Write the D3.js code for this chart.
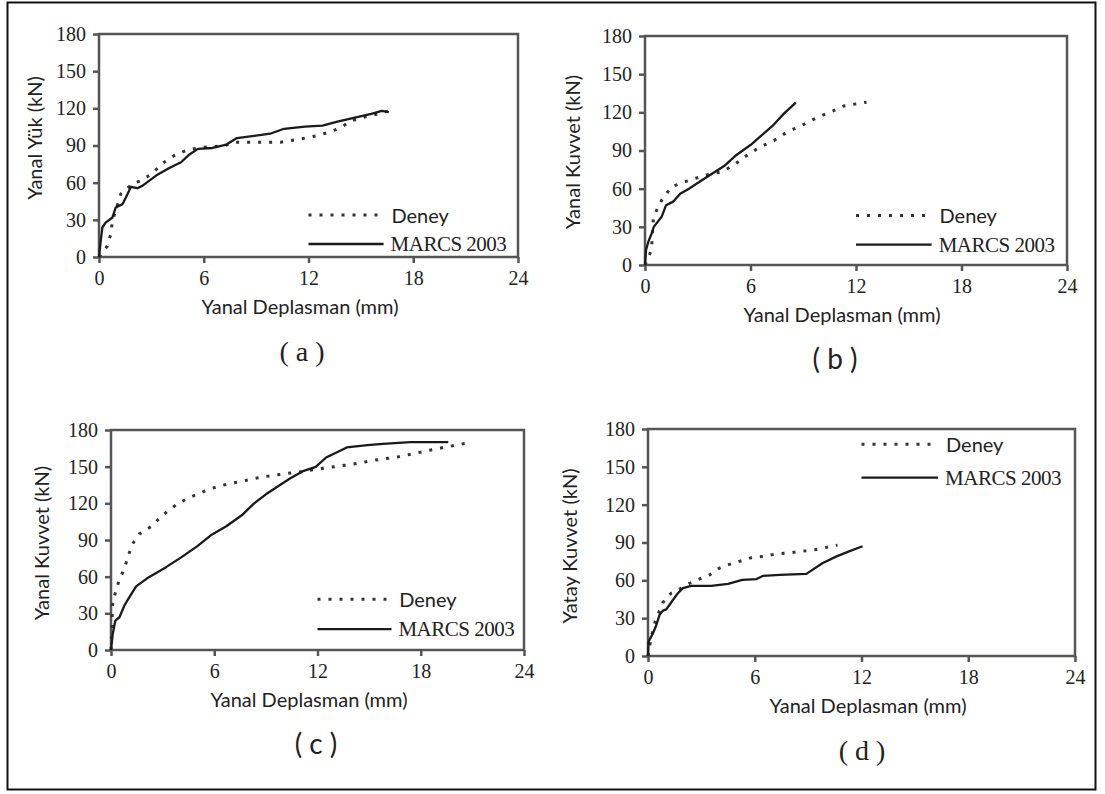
<!DOCTYPE html>
<html>
<head>
<meta charset="utf-8">
<script src="https://cdn.jsdelivr.net/npm/d3@7"></script>
<style>
  body { margin: 0; background: #fff; }
  svg { display: block; }
  .tick text { font-family: "Liberation Serif", serif; }
</style>
</head>
<body>
<div id="chart"></div>
<script>
/* Achsen und Texte */
const xTicks = [0, 6, 12, 18, 24];
const yTicks = [0, 30, 60, 90, 120, 150, 180];
const xTitle = "Yanal Deplasman (mm)";
const yTitles = ["Yanal Yük (kN)", "Yanal Kuvvet (kN)", "Yanal Kuvvet (kN)", "Yatay Kuvvet (kN)"];
const panelLabels = ["( a )", "( b )", "( c )", "( d )"];
const seriesNames = ["Deney", "MARCS 2003"];

const aDeney = [[0,0],[0.48,8.9],[0.67,18.4],[0.77,29],[1.25,51],[1.9,59],[2.4,61.6],[3.0,67],[3.65,75.7],[4.4,82.7],[5.1,86.5],[5.9,88.6],[6.5,89],[7.2,90],[7.8,92.7],[8.75,92.7],[10.4,92.7],[11.6,95.4],[12.5,98],[13.2,100.8],[13.9,104.8],[14.4,109.7],[15.2,113],[16.0,115.6],[16.6,118]];
const aMarcs = [[0,0],[0.1,13],[0.19,23.8],[0.38,27.8],[0.77,31.9],[0.96,40],[1.35,42.7],[1.54,48],[1.83,56.7],[2.2,55.5],[2.5,57.6],[3.27,65.7],[4.0,71.6],[4.7,76.5],[5.2,83],[5.67,87.3],[6.5,88],[7.3,90.8],[7.9,96],[9.0,98],[9.8,99.5],[10.6,103.5],[11.8,105.3],[12.8,106],[13.6,109],[14.4,111.6],[15.6,115.6],[16.2,118],[16.6,117]];

const bDeney = [[0,0],[0.29,9.2],[0.38,14.4],[0.48,38],[0.95,51],[1.52,61.6],[2.29,65.5],[3.05,68.9],[3.7,71.5],[4.4,73.4],[5.05,78.6],[5.7,85.2],[6.57,93],[7.33,97.7],[8.1,104.8],[8.86,109.3],[9.8,116],[10.6,120.5],[11.3,125],[12.6,128]];
const bMarcs = [[0,0],[0.06,11.8],[0.19,18.3],[0.38,24.9],[0.5,30],[0.95,38],[1.2,47],[1.6,49.8],[2.0,56],[2.5,60],[2.95,64],[3.7,70.7],[4.5,77.8],[5.2,86.5],[6.0,94.3],[6.76,103.5],[7.3,110],[7.9,119],[8.5,126.6],[8.57,127.6]];

const cDeney = [[0,0],[0.1,39],[0.29,48.7],[0.49,58],[0.78,66.5],[0.97,76],[1.26,87],[1.65,95],[2.33,101],[2.8,107.5],[3.3,113.8],[3.9,119.8],[4.5,124.4],[5.1,128],[5.8,132],[6.5,134.8],[7.1,136.7],[7.6,138],[8.3,140.3],[8.8,141.6],[9.5,143],[10.2,144.4],[11.0,145.8],[11.8,147.7],[12.7,149.4],[13.6,151.2],[14.3,152.6],[15.4,155.5],[16.7,158],[18.6,163.7],[19.4,165.9],[20.75,169.4],[21,170]];
const cMarcs = [[0,0],[0.1,13],[0.25,24],[0.49,26.8],[0.78,36.4],[0.97,41],[1.46,52],[2.2,59.6],[3.2,67.8],[4.1,76],[5.0,84.8],[5.8,93.8],[6.7,101.2],[7.6,110.2],[8.3,119.8],[9.0,127.4],[9.8,134.8],[10.4,140.3],[11.2,146.6],[11.9,149.9],[12.5,157.5],[13.7,165.7],[14.9,167.6],[15.8,168.6],[17.4,170],[19.6,170]];

const dDeney = [[0,0],[0.19,15.4],[0.43,28.6],[0.84,42.4],[1.3,49.8],[1.78,53],[2.34,57.7],[3.0,61.7],[3.46,64.3],[4.0,69.6],[4.67,73.1],[5.3,75.7],[5.9,78.4],[6.5,79],[7.2,81],[7.85,81.6],[8.5,82.9],[9.2,83.7],[9.8,85.5],[10.65,87.9]];
const dMarcs = [[0,0],[0.03,11.4],[0.28,18],[0.47,24.6],[0.65,32.6],[0.84,36],[1.03,37],[1.3,42.4],[1.68,49.8],[1.96,53.8],[2.43,55.6],[3.55,55.6],[4.5,57.2],[5.3,60.4],[6.1,61],[6.45,63.5],[7.4,64.3],[8.9,65.1],[9.8,73.6],[10.6,79],[11.3,83],[12.06,87]];

/* Legendenhöhe (in kN) je Diagramm: [Deney, MARCS] */
const legendLevels = [[34, 10.5], [39, 16], [41.5, 17], [168, 141.5]];

const width = 1105, height = 794;
const sans = "Lato, 'Open Sans', sans-serif";
const serif = "'Liberation Serif', serif";

/* Lage der vier Diagramme im Bild */
const layout = [
  { left: 99,  right: 518,  top: 34,  bottom: 257, yTitleX: 34,  yTitleY: 138, xTitleX: 300, labelX: 302, labelFont: serif },
  { left: 645, right: 1067, top: 36,  bottom: 265, yTitleX: 572, yTitleY: 152, xTitleX: 842, labelX: 835, labelFont: sans },
  { left: 111, right: 524,  top: 430, bottom: 650, yTitleX: 41,  yTitleY: 543, xTitleX: 309, labelX: 316, labelFont: sans },
  { left: 648, right: 1075, top: 429, bottom: 656, yTitleX: 569, yTitleY: 546, xTitleX: 868, labelX: 862, labelFont: serif }
];
const series = [[aDeney, aMarcs], [bDeney, bMarcs], [cDeney, cMarcs], [dDeney, dMarcs]];

const svg = d3.select("#chart").append("svg")
  .attr("width", width)
  .attr("height", height);

/* Rahmen um das ganze Bild */
svg.append("rect")
  .attr("x", 7.5).attr("y", 2.5)
  .attr("width", 1088).attr("height", 787)
  .attr("fill", "none")
  .attr("stroke", "#111")
  .attr("stroke-width", 2);

const axisColor = "#555";
const dotted = "3,8";

layout.forEach((p, i) => {
  const x = d3.scaleLinear().domain([0, 24]).range([p.left, p.right]);
  const y = d3.scaleLinear().domain([0, 180]).range([p.bottom, p.top]);
  const g = svg.append("g");

  // Kasten des Diagramms
  g.append("rect")
    .attr("x", p.left).attr("y", p.top)
    .attr("width", p.right - p.left).attr("height", p.bottom - p.top)
    .attr("fill", "none")
    .attr("stroke", axisColor)
    .attr("stroke-width", 2.5);

  // x-Achse
  const xAxis = g.append("g")
    .attr("transform", `translate(0,${p.bottom})`)
    .call(d3.axisBottom(x).tickValues(xTicks).tickSize(6).tickPadding(8).tickFormat(d3.format("d")));
  // y-Achse
  const yAxis = g.append("g")
    .attr("transform", `translate(${p.left},0)`)
    .call(d3.axisLeft(y).tickValues(yTicks).tickSize(6).tickPadding(7).tickFormat(d3.format("d")));

  [xAxis, yAxis].forEach(ax => {
    ax.select(".domain").remove();
    ax.selectAll(".tick line").attr("stroke", axisColor).attr("stroke-width", 2.5);
    ax.selectAll(".tick text")
      .attr("fill", "#222")
      .style("font-family", serif)
      .style("font-size", "20px");
  });

  // Kurven
  const line = d3.line().x(d => x(d[0])).y(d => y(d[1]));
  g.append("path")
    .datum(series[i][0])
    .attr("d", line)
    .attr("fill", "none")
    .attr("stroke", "#333")
    .attr("stroke-width", 3)
    .attr("stroke-dasharray", dotted);
  g.append("path")
    .datum(series[i][1])
    .attr("d", line)
    .attr("fill", "none")
    .attr("stroke", "#1a1a1a")
    .attr("stroke-width", 2.3)
    .attr("stroke-linejoin", "round");

  // Legende
  const lv = legendLevels[i];
  g.append("line")
    .attr("x1", x(12)).attr("x2", x(16.2))
    .attr("y1", y(lv[0])).attr("y2", y(lv[0]))
    .attr("stroke", "#333").attr("stroke-width", 3)
    .attr("stroke-dasharray", dotted);
  g.append("text")
    .attr("x", x(16.75)).attr("y", y(lv[0]))
    .attr("dominant-baseline", "central")
    .style("font-family", sans).style("font-size", "20px")
    .attr("fill", "#222")
    .text(seriesNames[0]);
  g.append("line")
    .attr("x1", x(12)).attr("x2", x(16.3))
    .attr("y1", y(lv[1])).attr("y2", y(lv[1]))
    .attr("stroke", "#1a1a1a").attr("stroke-width", 2.3);
  g.append("text")
    .attr("x", x(16.7)).attr("y", y(lv[1]))
    .attr("dominant-baseline", "central")
    .style("font-family", serif).style("font-size", "21px")
    .style("letter-spacing", "-0.5px")
    .attr("fill", "#222")
    .text(seriesNames[1]);

  // Achsentitel
  g.append("text")
    .attr("x", p.xTitleX).attr("y", p.bottom + 57)
    .attr("text-anchor", "middle")
    .style("font-family", sans).style("font-size", "20px")
    .attr("fill", "#222")
    .text(xTitle);
  g.append("text")
    .attr("transform", `translate(${p.yTitleX},${p.yTitleY}) rotate(-90)`)
    .attr("text-anchor", "middle")
    .attr("dominant-baseline", "central")
    .style("font-family", sans).style("font-size", "20px")
    .attr("fill", "#222")
    .text(yTitles[i]);

  // Bezeichnung (a)..(d)
  g.append("text")
    .attr("x", p.labelX).attr("y", p.bottom + 104)
    .attr("text-anchor", "middle")
    .style("font-family", p.labelFont).style("font-size", "28px")
    .attr("fill", "#222")
    .text(panelLabels[i]);
});
</script>
</body>
</html>
